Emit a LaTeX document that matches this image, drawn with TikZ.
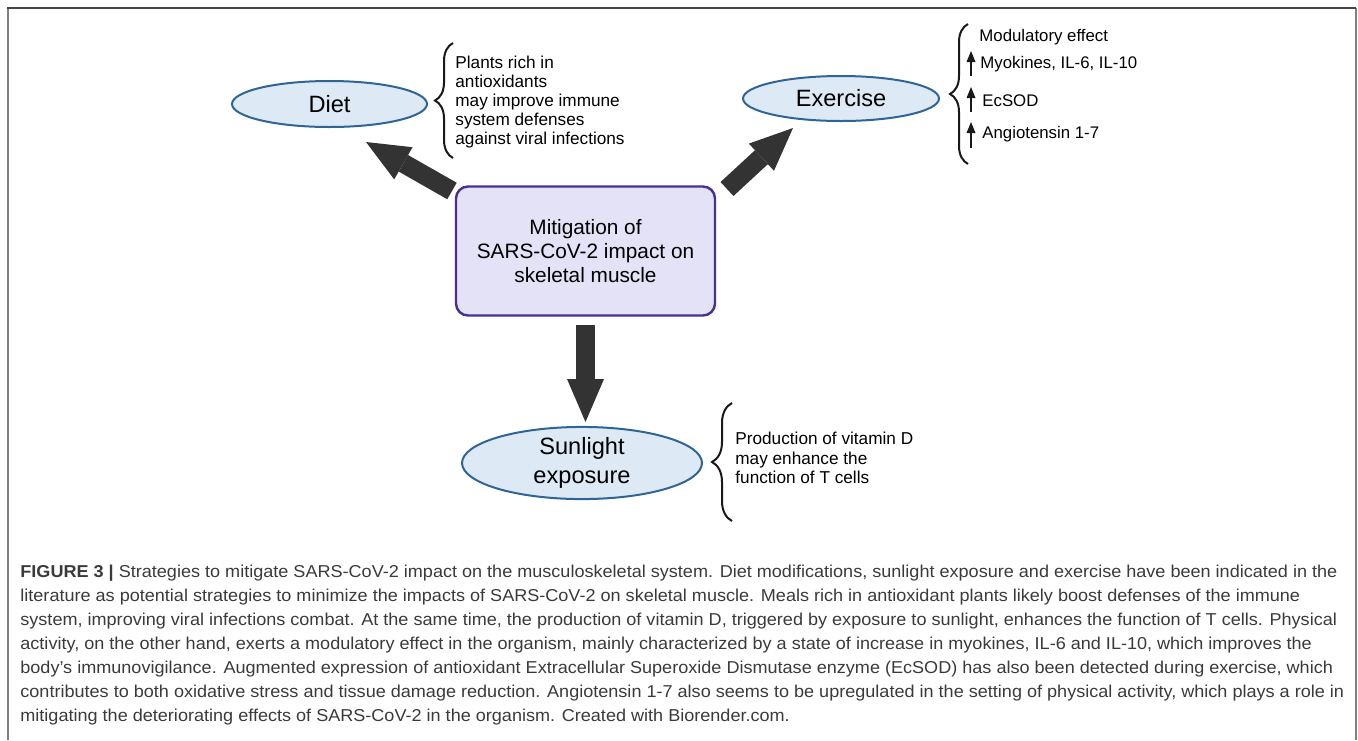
\documentclass[tikz,border=0pt]{standalone}
\usepackage{graphicx}
\usepackage{fontspec}
\setmainfont{Liberation Sans}
\usetikzlibrary{shapes.geometric,arrows.meta,decorations.pathreplacing}
\definecolor{ellfill}{HTML}{DDEAF6}
\definecolor{elldraw}{HTML}{2F6596}
\definecolor{boxfill}{HTML}{E4E2F7}
\definecolor{boxdraw}{HTML}{4B2E91}
\definecolor{arrowgray}{HTML}{333333}
\definecolor{capgray}{HTML}{3A3A3A}
\definecolor{framedark}{HTML}{444444}
\definecolor{frameside}{HTML}{808080}
\newlength\capw
\newcommand\capfont{\fontsize{8.6pt}{12pt}\selectfont}
\newcommand\capA{\textbf{FIGURE 3 |} Strategies to mitigate SARS-CoV-2 impact on the musculoskeletal system. Diet modifications, sunlight exposure and exercise have been indicated in the}
\AtBeginDocument{%
  \settowidth\capw{\capfont\capA}%
  \pgfmathsetmacro\tmpsx{658.5/\capw}%
  \xdef\capsx{\tmpsx}%
}
\tikzset{
  ell/.style={ellipse, draw=elldraw, fill=ellfill, line width=1pt, inner sep=0pt,
    font=\fontsize{11.8pt}{14.5pt}\selectfont, align=center, text=black},
  mitbox/.style={rectangle, rounded corners=6pt, draw=boxdraw, fill=boxfill, line width=1.2pt,
    minimum width=129.5pt, minimum height=64.5pt, align=center, text=black,
    font=\fontsize{10.4pt}{12pt}\selectfont},
  note/.style={anchor=west, align=left, inner sep=0pt, text=black,
    font=\fontsize{8.6pt}{9.6pt}\selectfont},
  bigarrow/.style={draw=arrowgray, line width=9.5pt,
    -{Triangle[width=18.5pt,length=21.5pt,line width=0pt]}},
  bracestyle/.style={decorate, decoration={brace, amplitude=#1}, line width=1pt, draw=black!90},
  uparr/.style={draw=black!90, line width=0.9pt, -{Triangle[width=4.5pt,length=5.5pt,line width=0pt]}},
  capline/.style={anchor=base west, inner sep=0pt, font=\capfont, text=capgray},
}
\begin{document}
\begin{tikzpicture}[x=0.5pt,y=-0.5pt]
\useasboundingbox (0,0) rectangle (1358,740);
% frame
\draw[frameside, line width=1pt] (7.5,8) -- (7.5,740);
\draw[frameside, line width=1pt] (1355.5,8) -- (1355.5,740);
\draw[framedark, line width=1pt] (7,8.3) -- (1356,8.3);

% main nodes
\node[ell, minimum width=97.5pt, minimum height=23pt] (diet) at (329.5,104) {Diet};
\node[ell, minimum width=98pt, minimum height=22.5pt] (exer) at (841,98.5) {Exercise};
\node[ell, minimum width=120pt, minimum height=31.5pt] (sun) at (582,463) {Sunlight\\exposure};
\node[mitbox] (mit) at (585.5,251) {Mitigation of\\SARS-CoV-2 impact on\\skeletal muscle};

% big arrows
\coordinate (dTail) at (452,191);
\coordinate (dTip) at (366,142);
\coordinate (eTail) at (727,189);
\coordinate (eTip) at (793,128);
\coordinate (sTail) at (585.5,325);
\coordinate (sTip) at (585.5,422);
\draw[bigarrow] (dTail) -- (dTip);
\draw[bigarrow] (eTail) -- (eTip);
\draw[bigarrow] (sTail) -- (sTip);

% braces
\coordinate (dbB) at (453,158);
\coordinate (dbT) at (453,43);
\draw[bracestyle=9pt] (dbB) -- (dbT);
\coordinate (ebB) at (968,164);
\coordinate (ebT) at (968,24);
\draw[bracestyle=9pt] (ebB) -- (ebT);
\coordinate (sbB) at (732,521);
\coordinate (sbT) at (732,403);
\draw[bracestyle=10pt] (sbB) -- (sbT);

% notes
\node[note] (dnote) at (455,102) {Plants rich in\\antioxidants\\may improve immune\\system defenses\\against viral infections};
\node[note] (snote) at (735,458) {Production of vitamin D\\may enhance the\\function of T cells};
\node[note, font=\fontsize{8.4pt}{9.6pt}\selectfont] (e0) at (979,37) {Modulatory effect};
\node[note, font=\fontsize{8.4pt}{9.6pt}\selectfont] (e1) at (980,64) {Myokines, IL-6, IL-10};
\node[note, font=\fontsize{8.4pt}{9.6pt}\selectfont] (e2) at (982,101) {EcSOD};
\node[note, font=\fontsize{8.4pt}{9.6pt}\selectfont] (e3) at (982,134) {Angiotensin 1-7};
\coordinate (a1b) at (971,76);
\coordinate (a1t) at (971,51);
\coordinate (a2b) at (971,112);
\coordinate (a2t) at (971,87);
\coordinate (a3b) at (971,148);
\coordinate (a3t) at (971,122);
\draw[uparr] (a1b) -- (a1t);
\draw[uparr] (a2b) -- (a2t);
\draw[uparr] (a3b) -- (a3t);

% caption
\node[capline] (c1) at (20,577) {\scalebox{\capsx}[1]{\capA}};
\node[capline] (c2) at (20,601) {\scalebox{\capsx}[1]{literature as potential strategies to minimize the impacts of SARS-CoV-2 on skeletal muscle. Meals rich in antioxidant plants likely boost defenses of the immune}};
\node[capline] (c3) at (20,625) {\scalebox{\capsx}[1]{system, improving viral infections combat. At the same time, the production of vitamin D, triggered by exposure to sunlight, enhances the function of T cells. Physical}};
\node[capline] (c4) at (20,649) {\scalebox{\capsx}[1]{activity, on the other hand, exerts a modulatory effect in the organism, mainly characterized by a state of increase in myokines, IL-6 and IL-10, which improves the}};
\node[capline] (c5) at (20,673) {\scalebox{\capsx}[1]{body’s immunovigilance. Augmented expression of antioxidant Extracellular Superoxide Dismutase enzyme (EcSOD) has also been detected during exercise, which}};
\node[capline] (c6) at (20,697) {\scalebox{\capsx}[1]{contributes to both oxidative stress and tissue damage reduction. Angiotensin 1-7 also seems to be upregulated in the setting of physical activity, which plays a role in}};
\node[capline] (c7) at (20,721) {\scalebox{\capsx}[1]{mitigating the deteriorating effects of SARS-CoV-2 in the organism. Created with Biorender.com.}};
\end{tikzpicture}
\end{document}
